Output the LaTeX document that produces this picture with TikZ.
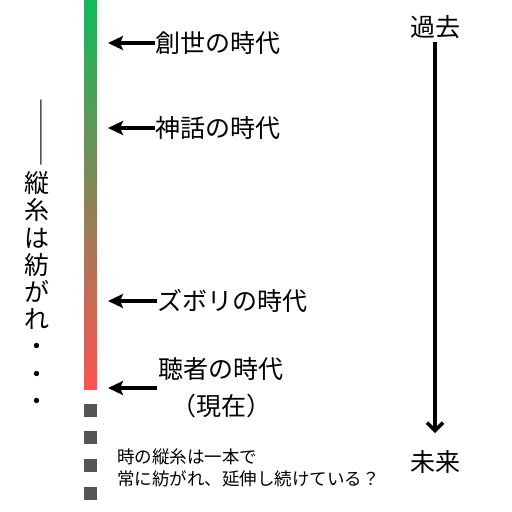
\documentclass[tikz,border=0pt]{standalone}
\usepackage{fontspec}
\setmainfont{Noto Sans CJK JP}
\usetikzlibrary{arrows.meta}
\definecolor{topgreen}{RGB}{16,186,90}
\definecolor{botred}{RGB}{255,82,82}
\definecolor{sqgrey}{RGB}{85,85,85}
\tikzset{
  lab/.style={anchor=west,inner sep=0pt,font=\fontsize{25}{37}\selectfont},
  leftarr/.style={line width=4pt,-{Stealth[length=15pt,width=14pt,inset=3pt]},shorten >=11pt},
  timearr/.style={line width=3.5pt,-{Straight Barb[length=8pt,width=16pt]},shorten <=15pt,shorten >=29pt},
  sq/.style={fill=sqgrey,minimum size=13pt,inner sep=0pt,outer sep=0pt},
  big/.style={inner sep=0pt,font=\fontsize{25}{30}\selectfont},
}
\begin{document}
\begin{tikzpicture}[x=1pt,y=-1pt]
\useasboundingbox (0,0) rectangle (512,512);
% gradient bar
\node[top color=topgreen,bottom color=botred,minimum width=13pt,minimum height=389pt,inner sep=0pt,outer sep=0pt] (bar) at (90.5,194.5) {};
% squares
\node[sq] (q1) at (90.5,410.5) {};
\node[sq] (q2) at (90.5,437.5) {};
\node[sq] (q3) at (90.5,465.5) {};
\node[sq] (q4) at (90.5,493.5) {};
% labels
\node[lab] (l1) at (155,43) {創世の時代};
\node[lab] (l2) at (155,128) {神話の時代};
\node[lab] (l3) at (157,301) {ズボリの時代};
\node[lab,anchor=center,align=center] (l4) at (221,388) {聴者の時代\\（現在）};
\coordinate (s4) at (157,388);
\draw[leftarr] (l1.west) -- (l1.west -| bar.east);
\draw[leftarr] (l2.west) -- (l2.west -| bar.east);
\draw[leftarr] (l3.west) -- (l3.west -| bar.east);
\draw[leftarr] (s4) -- (s4 -| bar.east);
% bottom text
\node[inner sep=0pt,anchor=west,align=left,font=\fontsize{17.5}{22}\selectfont] (note) at (117,468) {時の縦糸は一本で\\常に紡がれ、延伸し続けている？};
% right
\node[big] (kako) at (435,27) {過去};
\node[big] (mirai) at (435,462) {未来};
\draw[timearr] (kako.center) -- (mirai.center);
% vertical text
\node[inner sep=0pt,rotate=-90,xscale=1.35,font=\fontsize{26}{30}\selectfont] (dash) at (37,133) {――};
\node[inner sep=0pt,align=center,font=\fontsize{25}{27.2}\selectfont] (vt) at (37,291) {縦\\糸\\は\\紡\\が\\れ\\・\\・\\・};
\end{tikzpicture}
\end{document}
